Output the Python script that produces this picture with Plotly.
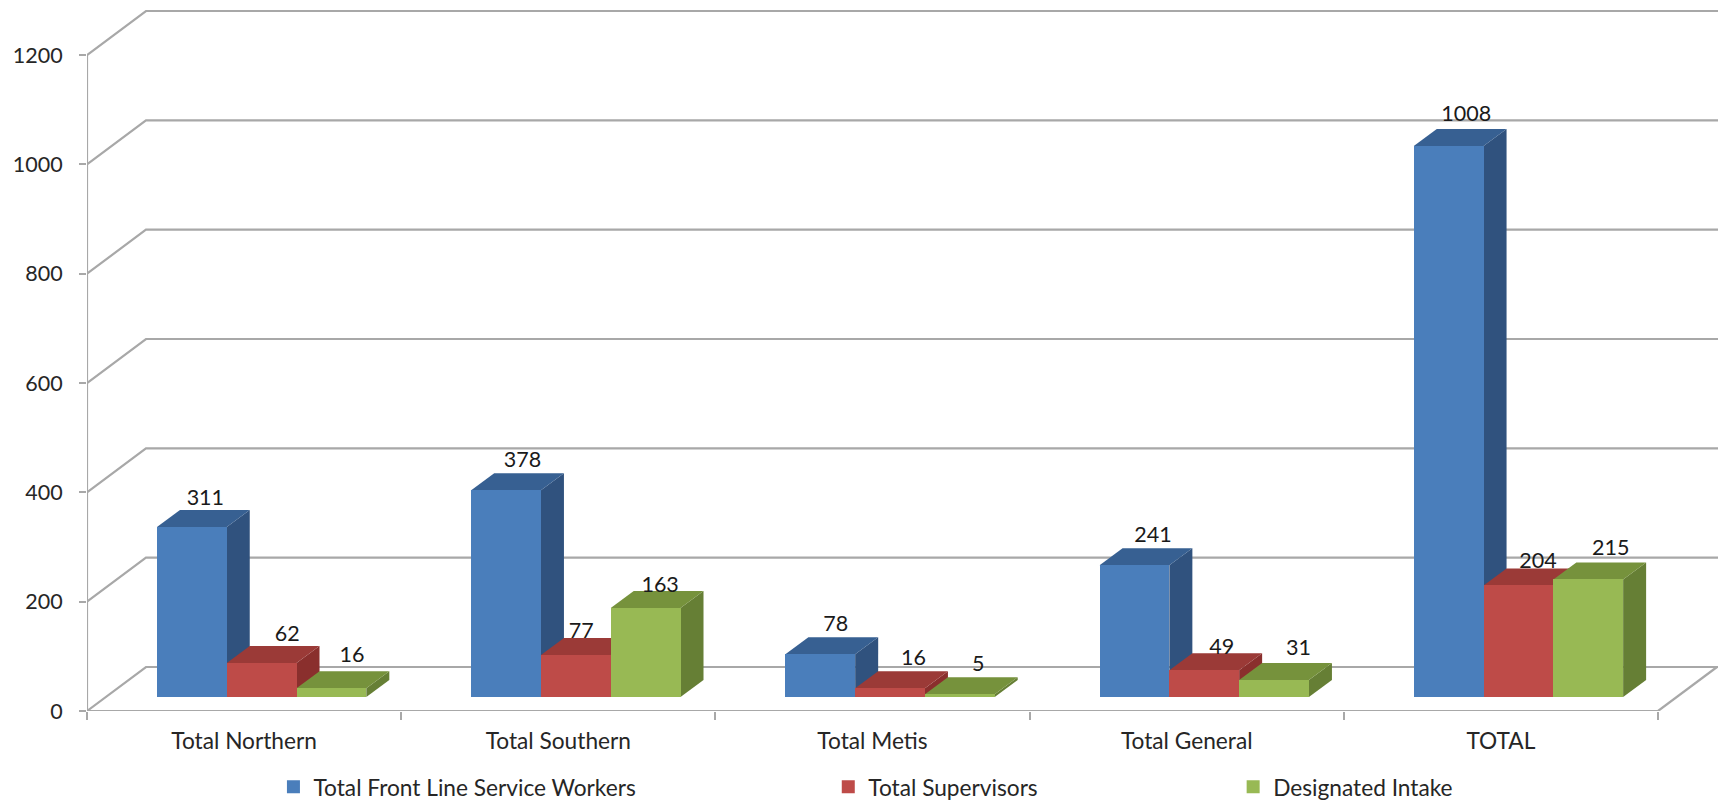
import plotly.graph_objects as go

categories = ["Total Northern", "Total Southern", "Total Metis", "Total General", "TOTAL"]
front_line = [311, 378, 78, 241, 1008]
supervisors = [62, 77, 16, 49, 204]
intake = [16, 163, 5, 31, 215]
y_ticks = [0, 200, 400, 600, 800, 1000, 1200]

series_names = ["Total Front Line Service Workers", "Total Supervisors", "Designated Intake"]
series_vals = [front_line, supervisors, intake]
front_cols = ["#4A7EBB", "#BE4B48", "#98B954"]
top_cols = ["#376092", "#9B3A37", "#76923C"]
side_cols = ["#30527E", "#8A2F2D", "#667F35"]

# label placement nudges in pixels, per series and category
label_dx_px = [[2, 5, 4, 7, 6], [14, -6, 12, 6, 8], [9, 3, 7, 13, 11]]
label_dy_px = [[4, 2, 2, 2, 1], [4, 9, 2, 9, 8], [-1, 10, 2, 1, 1]]

# Plot geometry: value 0 sits at pixel B, 1200 at pixel T; categories span L..R
L, R, T, B = 86.5, 1658.0, 55.0, 711.0
W, H = 1718, 801
PX = (R - L) / 5
PY = (B - T) / 1200
x_top = (W - L) / PX      # right edge of the picture in x units
y_top = B / PY            # top edge of the picture in value units
wall_dx, wall_dy = 59 / PX, 44 / PY
bar_dx, bar_dy = 23 / PX, 17 / PY
floor = 14 / PY
bar_w = 69.8 / PX
start = 70 / PX

fig = go.Figure()
GRID = "#A8A8A8"
LINE = dict(color=GRID, width=2.2)

# axis lines, back wall and side wall grid lines
fig.add_trace(go.Scatter(x=[0, 0], y=[1200, 0], mode="lines", line=LINE, showlegend=False, hoverinfo="skip"))
fig.add_trace(go.Scatter(x=[0, 5], y=[0, 0], mode="lines", line=LINE, showlegend=False, hoverinfo="skip"))
for v in y_ticks:
    fig.add_trace(go.Scatter(
        x=[0, wall_dx, x_top],
        y=[v, v + wall_dy, v + wall_dy],
        mode="lines", line=LINE, showlegend=False, hoverinfo="skip"))
fig.add_trace(go.Scatter(
    x=[5, 5 + wall_dx], y=[0, wall_dy], mode="lines", line=LINE,
    showlegend=False, hoverinfo="skip"))

# top and side faces
for s, vals in enumerate(series_vals):
    for i, v in enumerate(vals):
        x0 = i + start + s * bar_w
        x1 = x0 + bar_w
        y0 = floor
        y1 = floor + v
        fig.add_trace(go.Scatter(
            x=[x1, x1 + bar_dx, x1 + bar_dx, x1, x1],
            y=[y0, y0 + bar_dy, y1 + bar_dy, y1, y0],
            mode="lines", fill="toself", fillcolor=side_cols[s],
            line=dict(width=0), showlegend=False, hoverinfo="skip"))
        fig.add_trace(go.Scatter(
            x=[x0, x1, x1 + bar_dx, x0 + bar_dx, x0],
            y=[y1, y1, y1 + bar_dy, y1 + bar_dy, y1],
            mode="lines", fill="toself", fillcolor=top_cols[s],
            line=dict(width=0), showlegend=False, hoverinfo="skip"))

# front faces and labels on an overlaid axis pair
for s, vals in enumerate(series_vals):
    xs = [i + start + (s + 0.5) * bar_w for i in range(5)]
    fig.add_trace(go.Bar(
        x=xs, y=vals, base=[floor] * 5, width=bar_w,
        marker=dict(color=front_cols[s], line=dict(width=0)),
        xaxis="x2", yaxis="y2", showlegend=False, name=series_names[s]))
for s, vals in enumerate(series_vals):
    xs = [i + start + (s + 0.5) * bar_w + bar_dx / 2 + label_dx_px[s][i] / PX for i in range(5)]
    ys = [v + floor + bar_dy + (14 - label_dy_px[s][i]) / PY for i, v in enumerate(vals)]
    fig.add_trace(go.Scatter(
        x=xs, y=ys,
        text=[str(v) for v in vals], mode="text", textposition="middle center",
        textfont=dict(family="Lato", size=21.5, color="#1a1a1a"),
        xaxis="x2", yaxis="y2", showlegend=False, hoverinfo="skip"))

# legend entries
legend_left = [273, 828, 1233]
for s, name in enumerate(series_names):
    fig.add_trace(go.Scatter(
        x=[None], y=[None], mode="markers", name=name,
        marker=dict(symbol="square", size=13, color=front_cols[s]),
        legend="legend" if s == 0 else f"legend{s + 1}"))

def legend(px):
    return dict(x=(px - L) / (W - L), xanchor="left", y=(H - 787 - (H - B)) / B, yanchor="middle",
                orientation="h", bgcolor="rgba(0,0,0,0)", borderwidth=0,
                font=dict(family="Lato", size=22.7, color="#262626"))

fig.update_layout(
    width=W, height=H, paper_bgcolor="white", plot_bgcolor="white",
    margin=dict(l=L, r=0, t=0, b=H - B, autoexpand=False),
    barmode="overlay", bargap=0,
    font=dict(family="Lato", size=21.5, color="#262626"),
    legend=legend(legend_left[0]), legend2=legend(legend_left[1]), legend3=legend(legend_left[2]),
    xaxis=dict(range=[0, x_top], tickvals=[i + 0.5 for i in range(5)], ticktext=categories,
               ticks="", showgrid=False, zeroline=False, showline=False,
               tickfont=dict(family="Lato", size=22.7, color="#262626"),
               ticklabelstandoff=14,
               minor=dict(tickvals=list(range(6)), ticks="outside", ticklen=8, tickcolor=GRID, tickwidth=2)),
    yaxis=dict(range=[0, y_top], tickvals=y_ticks, ticks="outside", ticklen=7, tickcolor=GRID, tickwidth=2,
               showgrid=False, zeroline=False, showline=False,
               ticklabelstandoff=12),
    xaxis2=dict(range=[0, x_top], overlaying="x", visible=False),
    yaxis2=dict(range=[0, y_top], overlaying="y", visible=False),
)
fig.write_html("out.html", config=dict(displayModeBar=False),
               post_script="document.body.style.margin='0';document.body.style.overflow='hidden';")
